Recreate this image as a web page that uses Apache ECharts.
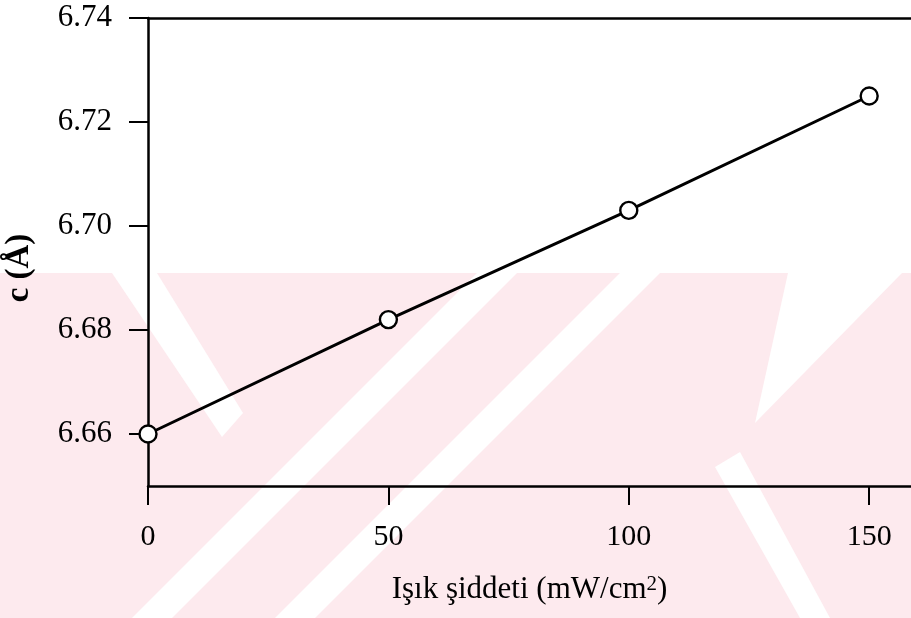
<!DOCTYPE html>
<html>
<head>
<meta charset="utf-8">
<script src="https://cdn.jsdelivr.net/npm/echarts@6/dist/echarts.min.js"></script>
<style>
html,body{margin:0;padding:0;background:#fff;}
#chart{width:911px;height:618px;}
</style>
</head>
<body>
<div id="chart"></div>
<script>
// Data
var xValues = [0, 50, 100, 150];
var cValues = [6.660, 6.682, 6.703, 6.725];
var yTickValues = [6.66, 6.68, 6.70, 6.72, 6.74];
var xTickValues = [0, 50, 100, 150];
var xAxisTitle = 'Işık şiddeti (mW/cm{sup|2})';
var yAxisTitle = 'c (Å)';

var PINK = '#fdeaee';
var WHITE = '#ffffff';
function poly(points, fill) {
  return { type: 'polygon', z: -100, silent: true, shape: { points: points }, style: { fill: fill } };
}
var watermark = [
  { type: 'rect', z: -100, silent: true, shape: { x: 0, y: 273, width: 911, height: 345 }, style: { fill: PINK } },
  poly([[112,273],[157,273],[243,413],[222,437]], WHITE),
  poly([[477,273],[517,273],[172,618],[132,618]], WHITE),
  poly([[620,273],[660,273],[315,618],[275,618]], WHITE),
  poly([[788,273],[902,273],[755,423]], WHITE),
  poly([[715,467],[740,452],[830,618],[800,618]], WHITE)
];

var chart = echarts.init(document.getElementById('chart'), null, { renderer: 'canvas' });
var FONT = 'Liberation Serif';
chart.setOption({
  backgroundColor: '#ffffff',
  animation: false,
  graphic: watermark,
  grid: { left: 148, top: 18, right: 0, bottom: 132, containLabel: false, outerBoundsMode: 'none' },
  xAxis: [{
    type: 'value', min: 0, max: 158.7, position: 'bottom',
    name: xAxisTitle, nameLocation: 'middle', nameGap: 88,
    nameTextStyle: { fontFamily: FONT, fontSize: 31, color: '#000',
      rich: { sup: { fontFamily: FONT, fontSize: 21, color: '#000', verticalAlign: 'top', padding: [0, 0, 10, 0] } } },
    axisLine: { show: true, onZero: false, lineStyle: { color: '#000', width: 2.5 } },
    axisTick: { show: true, inside: false, length: 19, lineStyle: { color: '#000', width: 2 }, customValues: xTickValues },
    axisLabel: { show: true, margin: 36, fontFamily: FONT, fontSize: 30, color: '#000', customValues: xTickValues },
    splitLine: { show: false }
  }, {
    type: 'value', min: 0, max: 158.7, position: 'top',
    axisLine: { show: true, onZero: false, lineStyle: { color: '#000', width: 2.5 } },
    axisTick: { show: false }, axisLabel: { show: false }, splitLine: { show: false }
  }],
  yAxis: {
    type: 'value', min: 6.65, max: 6.74,
    name: yAxisTitle, nameLocation: 'middle', nameGap: 112,
    nameTextStyle: { fontFamily: FONT, fontSize: 33, fontWeight: 'bold', color: '#000', padding: [0, 32, 0, 0] },
    axisLine: { show: true, onZero: false, lineStyle: { color: '#000', width: 2.5 } },
    axisTick: { show: true, inside: false, length: 19, lineStyle: { color: '#000', width: 2 }, customValues: yTickValues },
    axisLabel: { show: true, margin: 36, fontFamily: FONT, fontSize: 31, color: '#000', customValues: yTickValues,
      formatter: function (v) { return Number(v).toFixed(2); } },
    splitLine: { show: false }
  },
  series: [{
    type: 'line',
    xAxisIndex: 0,
    data: xValues.map(function (x, i) { return [x, cValues[i]]; }),
    symbol: 'circle', symbolSize: 17,
    lineStyle: { color: '#000', width: 3 },
    itemStyle: { color: '#ffffff', borderColor: '#000', borderWidth: 2.4 },
    z: 5
  }]
});
</script>
</body>
</html>
